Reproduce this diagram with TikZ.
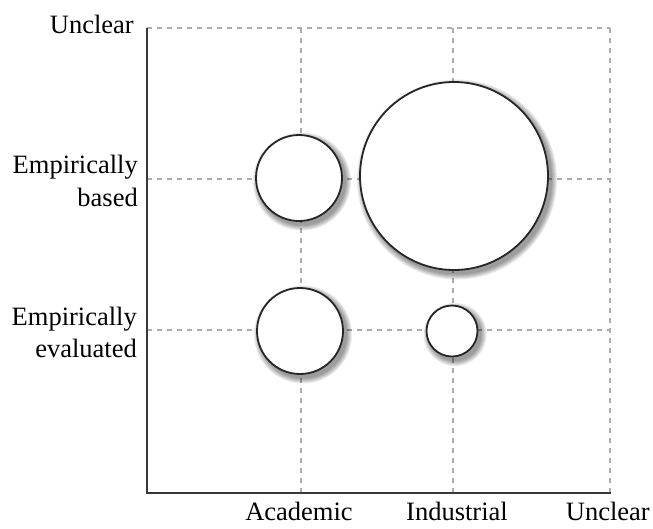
\documentclass[tikz,border=0pt]{standalone}
\usepackage{fontspec}
\setmainfont{Liberation Serif}
\usepackage{tikz}
\colorlet{gridgray}{black!32}
\colorlet{axisgray}{black!78}
\colorlet{shadegray}{black}

\begin{document}
\begin{tikzpicture}[x=1pt,y=-1pt,
    font=\fontsize{26.5}{32.5}\selectfont,
    gridline/.style={gridgray, line width=1.4pt, dash pattern=on 5pt off 5pt},
    axisline/.style={axisgray, line width=2.2pt},
    bubble/.style={circle, draw=black!85, line width=1.8pt, fill=white, inner sep=0pt},
    lbl/.style={inner sep=0pt, align=right}]
    \useasboundingbox (0,0) rectangle (653,528);
    \coordinate (origin) at (147,493);
    \coordinate (ytop) at (147,28);
    \coordinate (xend) at (611,493);
        % dashed grid
        \foreach \x in {301,453,610}{
            \draw[gridline](\x,28)--(\x,493);
        }
        \foreach \y in {28,179,330}{
            \draw[gridline](147,\y)--(610,\y);
        }
        % axes
        \draw[axisline](ytop)--(origin)--(xend);
        % bubbles with soft shadow
        \foreach \cx/\cy/\r/\name in {299/178/43/acbased, 454/176/94/inbased, 300/331/43/aceval, 452/331/25.5/ineval}{
            \foreach \k in {0,1,...,5}{
                \fill[shadegray, opacity=0.08](\cx+3,\cy+3.5) circle (\r+6-\k);
            }
            \node[bubble, minimum size=2*\r pt] (\name) at (\cx,\cy) {};
        }
        % labels
        \node[lbl, anchor=base east] (yunclear) at (134,33) {Unclear};
        \node[lbl, anchor=base east] (ybased) at (138,206) {Empirically\\based};
        \node[lbl, anchor=base east] (yeval) at (137,357.5) {Empirically\\evaluated};
        \node[lbl, anchor=base] (xacad) at (299,520) {Academic};
        \node[lbl, anchor=base] (xind) at (457,520) {Industrial};
        \node[lbl, anchor=base east] (xunclear) at (650,520) {Unclear};
\end{tikzpicture}
\end{document}
